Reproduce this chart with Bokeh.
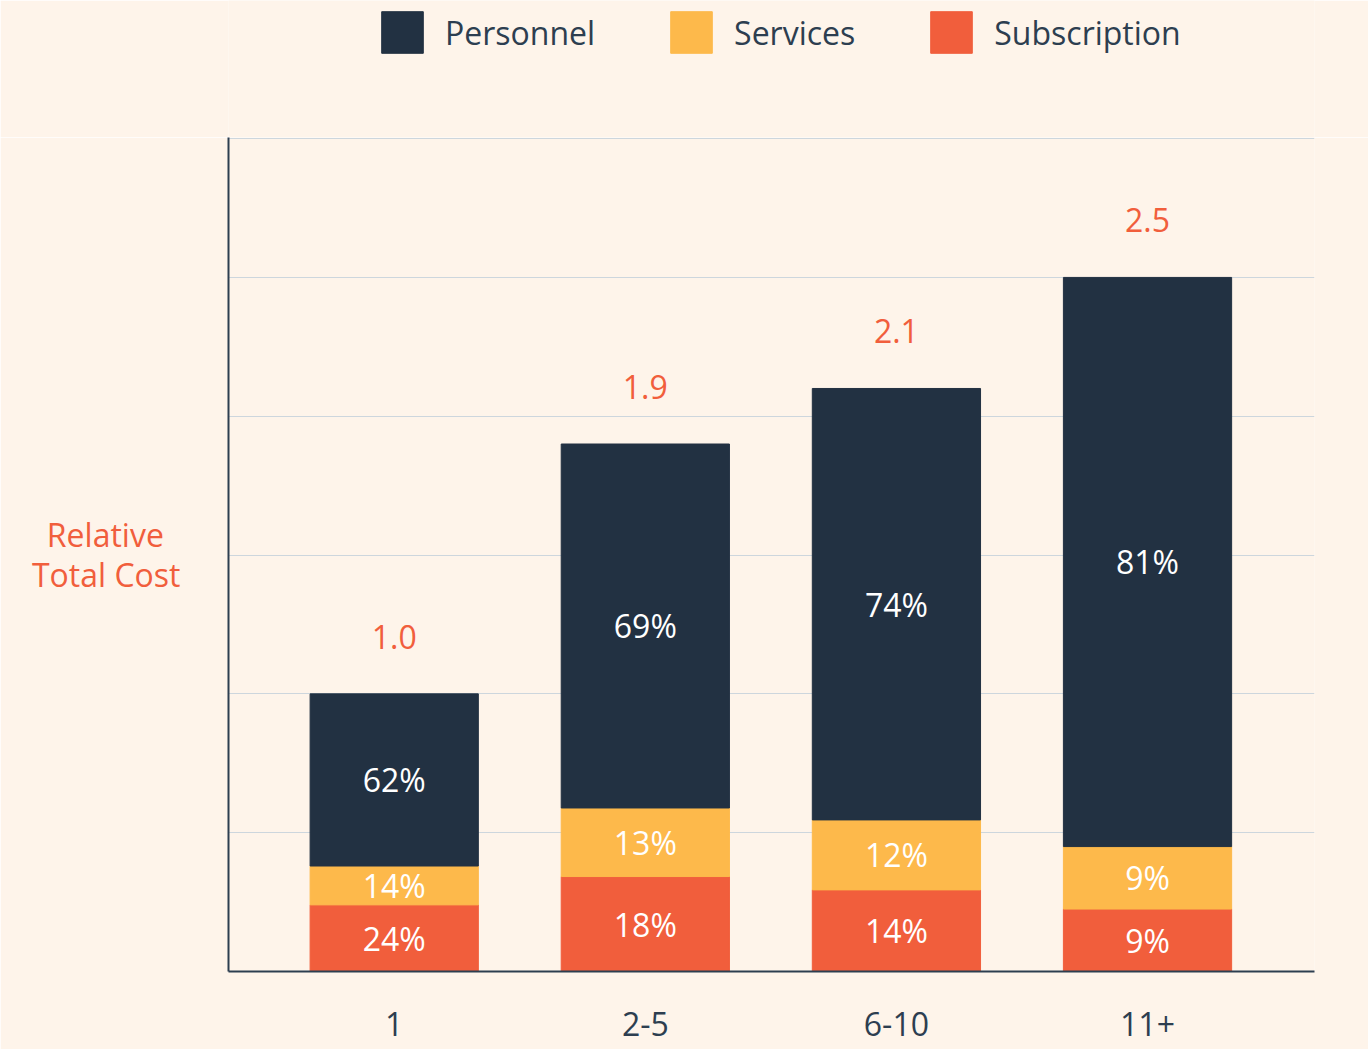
from bokeh.plotting import figure
from bokeh.layouts import column
from bokeh.models import ColumnDataSource, Legend, LegendItem, FixedTicker, LabelSet, Range1d
from bokeh.embed import file_html
from bokeh.resources import INLINE
from bokeh.core.properties import value

categories = ["1", "2-5", "6-10", "11+"]
totals = [1.0, 1.9, 2.1, 2.5]
total_labels = ["1.0", "1.9", "2.1", "2.5"]
subscription_pct = [24, 18, 14, 9]
services_pct = [14, 13, 12, 9]
personnel_pct = [62, 69, 74, 81]
grid_ticks = [0, 0.5, 1.0, 1.5, 2.0, 2.5, 3.0]
series_names = ["Personnel", "Services", "Subscription"]

BG = "#FEF4EA"
NAVY = "#223142"
YELLOW = "#FDB94B"
RED = "#F15E3C"
TEXT = "#2D3E50"
FONT = "Open Sans"
FS = "32px"

xs = list(range(len(categories)))
sub_top = [t * s / 100 for t, s in zip(totals, subscription_pct)]
srv_top = [st + t * s / 100 for st, t, s in zip(sub_top, totals, services_pct)]
per_top = list(totals)

src = ColumnDataSource(dict(
    x=xs,
    sub_b=[0] * len(xs), sub_t=sub_top,
    srv_b=sub_top, srv_t=srv_top,
    per_b=srv_top, per_t=per_top,
    sub_m=[(a + b) / 2 for a, b in zip([0] * len(xs), sub_top)],
    srv_m=[(a + b) / 2 for a, b in zip(sub_top, srv_top)],
    per_m=[(a + b) / 2 for a, b in zip(srv_top, per_top)],
    sub_l=[f"{v}%" for v in subscription_pct],
    srv_l=[f"{v}%" for v in services_pct],
    per_l=[f"{v}%" for v in personnel_pct],
    tot=totals, tot_l=total_labels,
))

# ---------- legend strip (its frame is aligned with the chart frame below) ----------
lg = figure(width=1368, height=137, x_range=Range1d(10, 11), y_range=Range1d(10, 11),
            output_backend="svg", toolbar_location=None,
            min_border_left=228, min_border_right=54, min_border_top=0, min_border_bottom=0)
lg.axis.visible = False
lg.grid.grid_line_color = None
lg.outline_line_color = None
lg.background_fill_color = BG
lg.border_fill_color = BG
lr = [lg.vbar(x="x", bottom=b, top=t, width=0.67, color=c, source=src)
      for b, t, c in (("per_b", "per_t", NAVY), ("srv_b", "srv_t", YELLOW), ("sub_b", "sub_t", RED))]
legend = Legend(items=[LegendItem(label=n, renderers=[r]) for n, r in zip(series_names, lr)],
                orientation="horizontal", location=(148, 79),
                glyph_width=52, glyph_height=52, label_standoff=17, spacing=70,
                padding=0, margin=0, border_line_color=None, background_fill_alpha=0,
                label_text_font=FONT, label_text_font_size=FS, label_text_color=TEXT)
lg.add_layout(legend, "center")

# ---------- main chart ----------
p = figure(width=1368, height=912, x_range=(-0.66, 3.665), y_range=(0, 3.004),
           output_backend="svg", toolbar_location=None,
           min_border_left=228, min_border_right=54, min_border_top=0, min_border_bottom=78)
p.background_fill_color = BG
p.border_fill_color = BG
p.outline_line_color = None

w = 0.67
p.vbar(x="x", bottom="sub_b", top="sub_t", width=w, color=RED, source=src)
p.vbar(x="x", bottom="srv_b", top="srv_t", width=w, color=YELLOW, source=src)
p.vbar(x="x", bottom="per_b", top="per_t", width=w, color=NAVY, source=src)

for m, l in (("sub_m", "sub_l"), ("srv_m", "srv_l"), ("per_m", "per_l")):
    p.add_layout(LabelSet(x="x", y=m, text=l, source=src, text_align="center",
                          text_baseline="middle", text_color="white",
                          text_font=value(FONT), text_font_size=FS))

p.add_layout(LabelSet(x="x", y="tot", text="tot_l", source=src, text_align="center",
                      text_baseline="middle", y_offset=57, text_color=RED,
                      text_font=value(FONT), text_font_size=FS))

# x axis
p.xaxis.ticker = FixedTicker(ticks=xs)
p.xaxis.major_label_overrides = {i: c for i, c in enumerate(categories)}
p.xaxis.major_tick_line_color = None
p.xaxis.major_tick_out = 0
p.xaxis.minor_tick_line_color = None
p.xaxis.axis_line_color = TEXT
p.xaxis.axis_line_width = 2
p.xaxis.major_label_text_font = FONT
p.xaxis.major_label_text_font_size = FS
p.xaxis.major_label_text_color = TEXT
p.xaxis.major_label_standoff = 40

# y axis: no ticks, horizontal label
p.yaxis.ticker = FixedTicker(ticks=[])
p.yaxis.major_tick_out = 0
p.yaxis.minor_tick_out = 0
p.yaxis.axis_line_color = TEXT
p.yaxis.axis_line_width = 2
p.yaxis.axis_label = "Relative\u00a0\u00a0\nTotal Cost"
p.yaxis.axis_label_text_font = FONT
p.yaxis.axis_label_text_font_size = FS
p.yaxis.axis_label_text_font_style = "normal"
p.yaxis.axis_label_text_color = RED
p.yaxis.axis_label_text_line_height = 0.95
p.yaxis.axis_label_standoff = 48
p.yaxis.axis_label_text_align = "center"
if "axis_label_orientation" in p.yaxis[0].properties():
    p.yaxis.axis_label_orientation = "horizontal"

p.xgrid.grid_line_color = None
p.ygrid.ticker = FixedTicker(ticks=grid_ticks)
p.ygrid.grid_line_color = "#CDD6DD"
p.ygrid.grid_line_width = 1

layout = column(lg, p, spacing=0)
html = file_html(layout, INLINE)
html = html.replace("<body>", '<body style="background:%s">' % BG, 1)
open("out.html", "w").write(html)
